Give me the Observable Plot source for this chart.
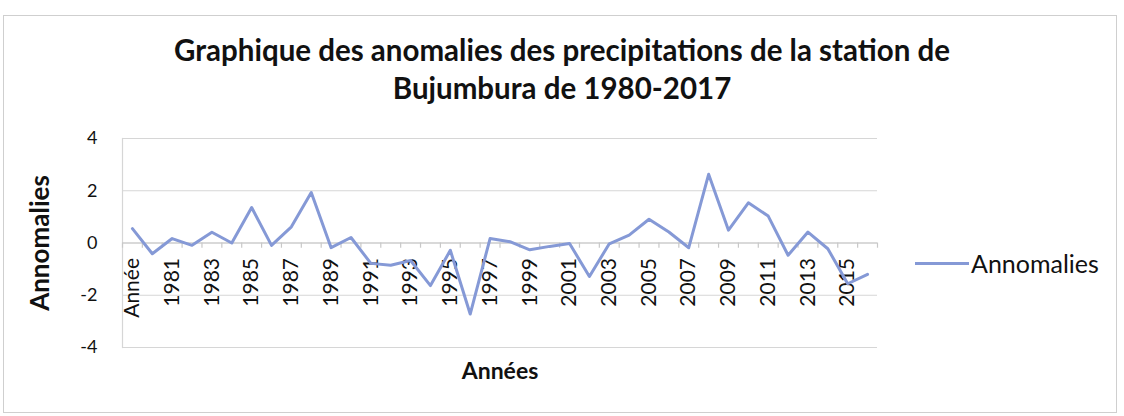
<!DOCTYPE html>
<html>
<head>
<meta charset="utf-8">
<script src="https://cdn.jsdelivr.net/npm/d3@7"></script>
<script src="https://cdn.jsdelivr.net/npm/@observablehq/plot@0.6"></script>
<style>
  html, body { margin: 0; padding: 0; background: #fff; }
  #wrap { position: relative; width: 1124px; height: 416px; overflow: hidden; font-family: Lato, "Open Sans", sans-serif; }
  #border { position: absolute; left: 3px; top: 15px; width: 1114px; height: 398px; border: 1px solid #cfcfcf; box-sizing: border-box; }
  #title { position: absolute; left: 0; width: 1124px; top: 31px; text-align: center; font-weight: bold; font-size: 29.5px; line-height: 38px; color: #111; }
  #chart { position: absolute; left: 0; top: 0; }
  #legend { position: absolute; left: 915px; top: 248px; display: flex; align-items: center; font-size: 25px; color: #111; }
  #legend .sw { width: 54px; height: 3px; background: #8599d6; margin-right: 2px; }
</style>
</head>
<body>
<div id="wrap">
  <div id="border"></div>
  <div id="title">Graphique des anomalies des precipitations de la station de<br>Bujumbura de 1980-2017</div>
  <div id="chart"></div>
  <div id="legend"><div class="sw"></div><span>Annomalies</span></div>
</div>
<script>
const categories = ["Année", "1980", "1981", "1982", "1983", "1984", "1985", "1986", "1987", "1988", "1989",
  "1990", "1991", "1992", "1993", "1994", "1995", "1996", "1997", "1998", "1999",
  "2000", "2001", "2002", "2003", "2004", "2005", "2006", "2007", "2008", "2009",
  "2010", "2011", "2012", "2013", "2014", "2015", "2016"];
const anomalies = [0.55, -0.41, 0.17, -0.09, 0.41, 0.00, 1.36, -0.09, 0.62, 1.93, -0.18,
  0.21, -0.78, -0.85, -0.67, -1.63, -0.28, -2.72, 0.17, 0.05, -0.26,
  -0.13, -0.02, -1.28, -0.03, 0.30, 0.91, 0.42, -0.18, 2.63, 0.49,
  1.54, 1.03, -0.47, 0.42, -0.22, -1.56, -1.20];
const yTicks = [-4, -2, 0, 2, 4];
const seriesName = "Annomalies";
const xTitle = "Années";
const yTitle = "Annomalies";

const data = categories.map((c, i) => ({cat: c, value: anomalies[i]}));
const shownLabels = categories.filter((c, i) => i % 2 === 0);

const W = 1124, H = 416, ML = 122, MR = 247, MT = 138, MB = 69;
const step = (W - ML - MR) / categories.length;
const lineColor = "#8599d6";
const gridColor = "#d6d6d6";

const chart = Plot.plot({
  width: W, height: H,
  marginLeft: ML, marginRight: MR, marginTop: MT, marginBottom: MB,
  style: {fontFamily: "Lato, 'Open Sans', sans-serif", fontSize: "18px", color: "#111", background: "transparent"},
  x: {type: "point", domain: categories, padding: 0.5, axis: null},
  y: {domain: [-4, 4], axis: null},
  marks: [
    Plot.gridY(yTicks, {stroke: gridColor, strokeOpacity: 1, strokeWidth: 1.2}),
    Plot.frame({anchor: "left", stroke: gridColor, strokeWidth: 1.2}),
    Plot.ruleY([0], {stroke: "#c8c8c8", strokeWidth: 1.2}),
    Plot.ruleX(categories, {x: d => d, y1: 0, y2: -0.2, dx: -step / 2, stroke: "#c8c8c8", strokeWidth: 1.2}),
    Plot.ruleX([categories[categories.length - 1]], {x: d => d, y1: 0, y2: -0.2, dx: step / 2, stroke: "#c8c8c8", strokeWidth: 1.2}),
    Plot.axisY(yTicks, {label: null, tickSize: 0, tickPadding: 25, fontSize: 18, tickFormat: d => String(d).replace("−", "-")}),
    Plot.text(shownLabels, {x: d => d, y: () => 0, text: d => d, rotate: -90, textAnchor: "end", lineAnchor: "middle", dy: 15, fontSize: 21, fill: "#111"}),
    Plot.line(data, {x: "cat", y: "value", stroke: lineColor, strokeWidth: 3, strokeLinejoin: "round", strokeLinecap: "round"}),
    Plot.text([yTitle], {frameAnchor: "left", rotate: -90, dx: -82, text: d => d, textAnchor: "middle", lineAnchor: "middle", fontWeight: "bold", fontSize: 26, fill: "#111"}),
    Plot.text([xTitle], {frameAnchor: "bottom", dy: 24, text: d => d, fontWeight: "bold", fontSize: 23, fill: "#111", lineAnchor: "middle"})
  ]
});
document.getElementById("chart").appendChild(chart);
</script>
</body>
</html>
